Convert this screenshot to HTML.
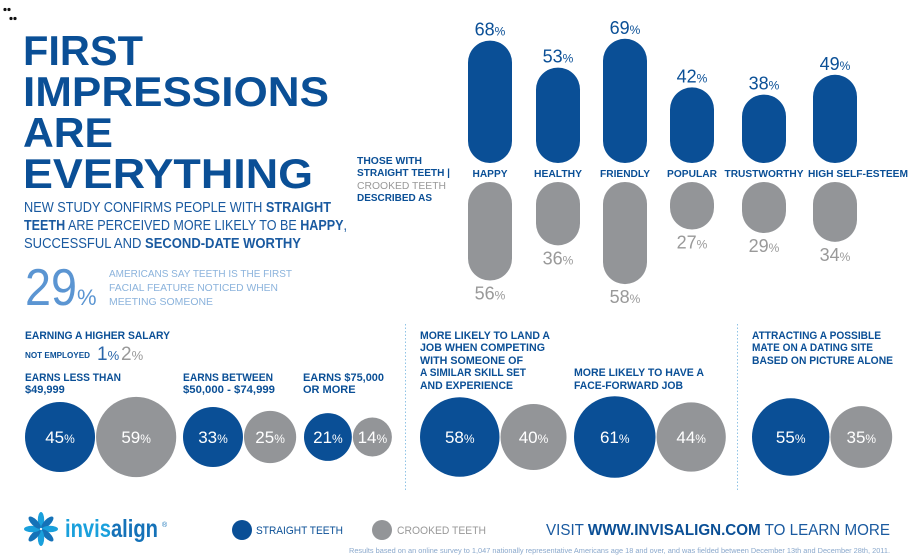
<!DOCTYPE html>
<html><head><meta charset="utf-8"><style>
html,body{margin:0;padding:0;background:#fff;}
svg{display:block;font-family:"Liberation Sans",sans-serif;}
</style></head><body>
<svg width="918" height="560" viewBox="0 0 918 560">
<g fill="#111">
<circle cx="5" cy="9.5" r="1.6"/><circle cx="9" cy="9.5" r="1.6"/><circle cx="11" cy="18.5" r="1.6"/><circle cx="15" cy="18.5" r="1.6"/>
</g>
<g fill="#0a4f96" font-weight="bold" font-size="42">
<text x="23" y="65" textLength="120" lengthAdjust="spacingAndGlyphs">FIRST</text>
<text x="23" y="106" textLength="306" lengthAdjust="spacingAndGlyphs">IMPRESSIONS</text>
<text x="23" y="147" textLength="90" lengthAdjust="spacingAndGlyphs">ARE</text>
<text x="23" y="188" textLength="290" lengthAdjust="spacingAndGlyphs">EVERYTHING</text>
</g>
<g fill="#1a5aa0" font-size="14.5">
<text x="24" y="212" textLength="307" lengthAdjust="spacingAndGlyphs">NEW STUDY CONFIRMS PEOPLE WITH <tspan font-weight="bold">STRAIGHT</tspan></text>
<text x="24" y="230" textLength="323" lengthAdjust="spacingAndGlyphs"><tspan font-weight="bold">TEETH</tspan> ARE PERCEIVED MORE LIKELY TO BE <tspan font-weight="bold">HAPPY</tspan>,</text>
<text x="24" y="248" textLength="277" lengthAdjust="spacingAndGlyphs">SUCCESSFUL AND <tspan font-weight="bold">SECOND-DATE WORTHY</tspan></text>
</g>
<g fill="#5b95d2">
<text x="25" y="305" font-size="52" textLength="52" lengthAdjust="spacingAndGlyphs">29</text>
<text x="77" y="305" font-size="22">%</text>
<g font-size="10" fill="#8bb3dc">
<text x="109" y="277" textLength="183" lengthAdjust="spacingAndGlyphs">AMERICANS SAY TEETH IS THE FIRST</text>
<text x="109" y="291" textLength="169" lengthAdjust="spacingAndGlyphs">FACIAL FEATURE NOTICED WHEN</text>
<text x="109" y="305" textLength="104" lengthAdjust="spacingAndGlyphs">MEETING SOMEONE</text>
</g></g>
<g font-size="10" font-weight="bold" fill="#0a4f96">
<text x="357" y="164" textLength="65" lengthAdjust="spacingAndGlyphs">THOSE WITH</text>
<text x="357" y="176" textLength="93" lengthAdjust="spacingAndGlyphs">STRAIGHT TEETH |</text>
<text x="357" y="189" textLength="89" lengthAdjust="spacingAndGlyphs" fill="#999" font-weight="normal">CROOKED TEETH</text>
<text x="357" y="201" textLength="75" lengthAdjust="spacingAndGlyphs">DESCRIBED AS</text>
</g>
<g id="bars"></g>
<g font-size="11" font-weight="bold" fill="#0a4f96">
<text x="25" y="339" textLength="145" lengthAdjust="spacingAndGlyphs">EARNING A HIGHER SALARY</text>
<text x="25" y="358" font-size="8" textLength="65" lengthAdjust="spacingAndGlyphs">NOT EMPLOYED</text>
<text x="97" y="360" font-size="19" font-weight="normal" fill="#2a66aa">1<tspan font-size="13">%</tspan></text>
<text x="121" y="360" font-size="19" font-weight="normal" fill="#999">2<tspan font-size="13">%</tspan></text>
<text x="25" y="381" textLength="96" lengthAdjust="spacingAndGlyphs">EARNS LESS THAN</text>
<text x="25" y="393">$49,999</text>
<text x="183" y="381" textLength="90" lengthAdjust="spacingAndGlyphs">EARNS BETWEEN</text>
<text x="183" y="393" textLength="92" lengthAdjust="spacingAndGlyphs">$50,000 - $74,999</text>
<text x="303" y="381" textLength="81" lengthAdjust="spacingAndGlyphs">EARNS $75,000</text>
<text x="303" y="393">OR MORE</text>
<text x="420" y="339" textLength="130" lengthAdjust="spacingAndGlyphs">MORE LIKELY TO LAND A</text>
<text x="420" y="351" textLength="125" lengthAdjust="spacingAndGlyphs">JOB WHEN COMPETING</text>
<text x="420" y="364" textLength="103" lengthAdjust="spacingAndGlyphs">WITH SOMEONE OF</text>
<text x="420" y="376" textLength="106" lengthAdjust="spacingAndGlyphs">A SIMILAR SKILL SET</text>
<text x="420" y="389" textLength="93" lengthAdjust="spacingAndGlyphs">AND EXPERIENCE</text>
<text x="574" y="376" textLength="130" lengthAdjust="spacingAndGlyphs">MORE LIKELY TO HAVE A</text>
<text x="574" y="389" textLength="109" lengthAdjust="spacingAndGlyphs">FACE-FORWARD JOB</text>
<text x="752" y="339" textLength="129" lengthAdjust="spacingAndGlyphs">ATTRACTING A POSSIBLE</text>
<text x="752" y="351" textLength="121" lengthAdjust="spacingAndGlyphs">MATE ON A DATING SITE</text>
<text x="752" y="364" textLength="141" lengthAdjust="spacingAndGlyphs">BASED ON PICTURE ALONE</text>
</g>
<g stroke="#8fc3e6" stroke-width="1" stroke-dasharray="1.5,2">
<line x1="405.5" y1="324" x2="405.5" y2="492"/><line x1="737.5" y1="324" x2="737.5" y2="492"/>
</g>
<g id="circles"></g>
<g id="logo">
<text x="65" y="537" font-size="25" font-weight="bold" fill="#1aa0dc" textLength="93" lengthAdjust="spacingAndGlyphs">invis<tspan fill="#1572b8">align</tspan></text>
<text x="162" y="527" font-size="7" fill="#1572b8">®</text>
</g>
<g>
<circle cx="242" cy="530" r="10" fill="#0a4f96"/>
<text x="256" y="534" font-size="11" fill="#0a4f96" textLength="87" lengthAdjust="spacingAndGlyphs">STRAIGHT TEETH</text>
<circle cx="382" cy="530" r="10" fill="#939598"/>
<text x="397" y="534" font-size="11" fill="#999" textLength="89" lengthAdjust="spacingAndGlyphs">CROOKED TEETH</text>
</g>
<text x="546" y="535" font-size="16" fill="#1a5aa0" textLength="344" lengthAdjust="spacingAndGlyphs">VISIT <tspan font-weight="bold" fill="#0a4f96">WWW.INVISALIGN.COM</tspan> TO LEARN MORE</text>
<text x="349" y="553" font-size="7" fill="#8aa8cc" textLength="541" lengthAdjust="spacingAndGlyphs">Results based on an online survey to 1,047 nationally representative Americans age 18 and over, and was fielded between December 13th and December 28th, 2011.</text>
</svg>
<script>
const NS='http://www.w3.org/2000/svg';
const traits=['HAPPY','HEALTHY','FRIENDLY','POPULAR','TRUSTWORTHY','HIGH SELF-ESTEEM'];
const straightVals=[68,53,69,42,38,49];
const crookedVals=[56,36,58,27,29,34];
const bubbleGroups=['salary-low','salary-mid','salary-high','land-job','face-forward-job','dating-site'];
const bubbleStraight=[45,33,21,58,61,55];
const bubbleCrooked=[59,25,14,40,44,35];
const BLUE='#0a4f96',GRAY='#939598';
function el(t,a,p){const e=document.createElementNS(NS,t);for(const k in a)e.setAttribute(k,a[k]);p.appendChild(e);return e;}
const layoutBarCenters=[490,558,625,692,764,835];
const layoutLabelCenters=[490,558,625,692,764,858];
const layoutLabelWidths=[35,48,50,50,79,100];
const barW=44,blueBase=163,grayBase=182,pxPer=1.8,grayPer=1.76;
const yUp=v=>blueBase-v*pxPer, hDown=v=>v*grayPer;
const bars=document.getElementById('bars');
traits.forEach((t,i)=>{
 const cx=layoutBarCenters[i];
 const top=yUp(straightVals[i]);
 const r1=el('rect',{x:cx-barW/2,y:top,width:barW,height:blueBase-top,rx:22,ry:22,fill:BLUE},bars);
 
 
 const l1=el('text',{x:cx,y:top-5,'text-anchor':'middle','font-size':'18',fill:BLUE},bars);
 l1.innerHTML=straightVals[i]+'<tspan font-size="12">%</tspan>';
 
 
 const lw=layoutLabelWidths[i];
 const lb=el('text',{x:layoutLabelCenters[i]-lw/2,y:177,'font-size':'10','font-weight':'bold',fill:BLUE,textLength:lw,lengthAdjust:'spacingAndGlyphs'},bars);
 lb.textContent=t;
 
 
 const h=hDown(crookedVals[i]);
 const r2=el('rect',{x:cx-barW/2,y:grayBase,width:barW,height:h,rx:22,ry:22,fill:GRAY},bars);
 
 
 const l2=el('text',{x:cx,y:grayBase+h+19,'text-anchor':'middle','font-size':'18',fill:'#999'},bars);
 l2.innerHTML=crookedVals[i]+'<tspan font-size="12">%</tspan>';
 
 
});
const rScale=v=>5.22*Math.sqrt(v);
const groupStart=[25,183,304,420,574,752];
const cy=437;
const circ=document.getElementById('circles');
function bubble(cx,v,color,name){
 const r=rScale(v);
 const c=el('circle',{cx:cx,cy:cy,r:r,fill:color},circ);
 
 
 const t=el('text',{x:cx,y:cy+6,'text-anchor':'middle','font-size':'17',fill:'#fff'},circ);
 t.innerHTML=v+'<tspan font-size="12">%</tspan>';
 
 
}
bubbleGroups.forEach((g,i)=>{
 const r1=rScale(bubbleStraight[i]),r2=rScale(bubbleCrooked[i]);
 const c1=groupStart[i]+r1;
 bubble(c1,bubbleStraight[i],BLUE,'bubble-straight-'+g);
 bubble(c1+r1+r2+1,bubbleCrooked[i],GRAY,'bubble-crooked-'+g);
});
const logo=document.getElementById('logo');
for(let k=0;k<8;k++){
 const a=k*45;
 const p=el('ellipse',{cx:41,cy:520,rx:3.2,ry:8,fill:k%2?'#1572b8':'#1aa0dc',transform:'rotate('+a+' 41 529)'},logo);
 
 
}
</script>
</body></html>
